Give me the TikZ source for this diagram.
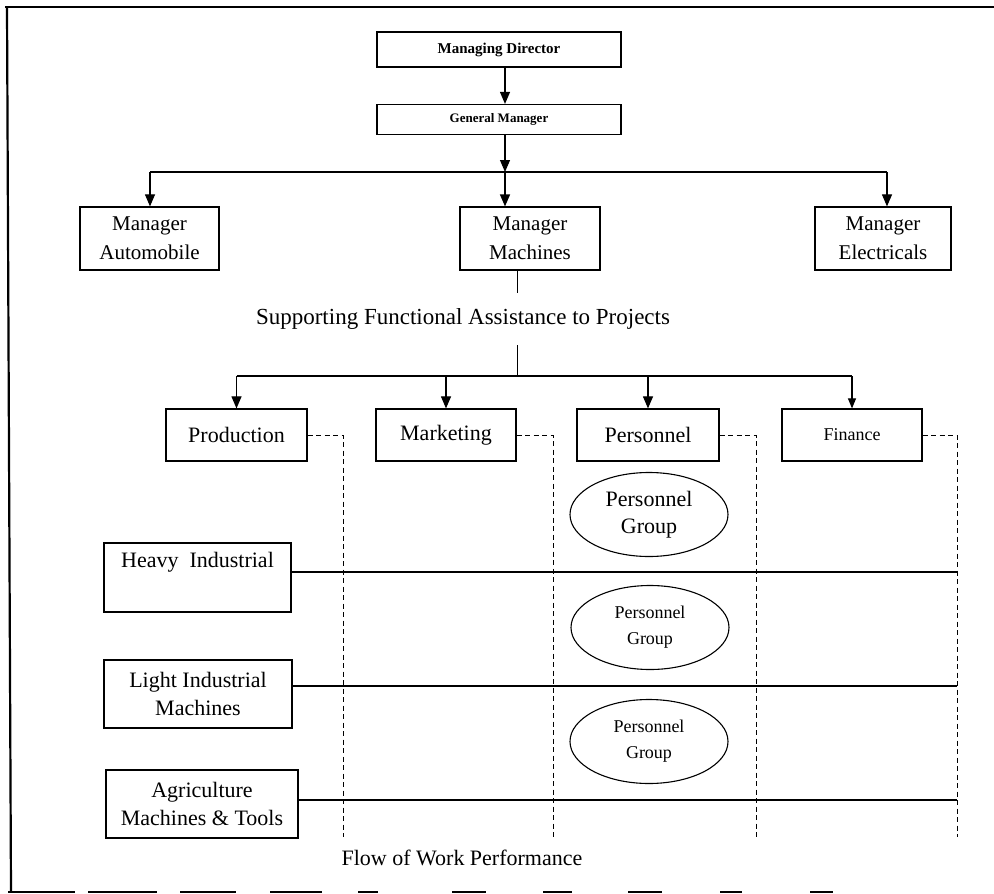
\documentclass[tikz,border=0pt]{standalone}
\usepackage{fontspec}
\setmainfont{Liberation Serif}
\usetikzlibrary{arrows.meta,shapes.geometric}
\begin{document}
\begin{tikzpicture}[x=1pt,y=-1pt,
  box/.style={draw, line width=1.2pt, inner sep=0pt, align=center},
  grp/.style={draw, ellipse, line width=1.1pt, inner sep=0pt, align=center,
              minimum width=158pt, minimum height=84pt},
  link/.style={line width=1.1pt},
  tip/.style={link, -{Triangle[length=12pt,width=10pt]}},
  flow/.style={line width=0.9pt, dash pattern=on 5pt off 3.5pt},
  row/.style={line width=1.3pt},
  frame/.style={line width=2.2pt},
  hd/.style={font=\fontsize{15}{17}\selectfont\bfseries},
  mgr/.style={font=\fontsize{21}{29}\selectfont},
  txt/.style={font=\fontsize{22}{28}\selectfont},
  small/.style={font=\fontsize{18}{26}\selectfont},
  ]
\useasboundingbox (0,0) rectangle (994,894);

% outer frame
\draw[frame] (5,7) -- (994,7);
\draw[frame] (7,7) -- (11,892);
\foreach \a/\b in {8/75, 88/157, 180/236, 270/322, 358/378, 452/486, 543/572, 628/662, 720/742, 810/833}
  \draw[frame] (\a,892) -- (\b,892);

% top management
\node[box, hd, minimum width=244pt, minimum height=35pt] (md) at (499,49.5) {Managing Director};
\node[box, hd, font=\fontsize{13}{15}\selectfont\bfseries, minimum width=244pt, minimum height=30pt] (gm) at (499,119.5) {General Manager};

% project managers
\node[box, mgr, minimum width=139pt, minimum height=63pt] (ma) at (149.5,238.5) {Manager\\Automobile};
\node[box, mgr, minimum width=140pt, minimum height=63pt] (mm) at (530,238.5) {Manager\\Machines};
\node[box, mgr, minimum width=136pt, minimum height=63pt] (me) at (883,238.5) {Manager\\Electricals};

\coordinate (j1) at (505,172);
\coordinate (j1w) at (150,172);
\coordinate (j1e) at (887,172);
\draw[tip] (j1 |- md.south) -- (j1 |- gm.north);
\draw[tip] (j1 |- gm.south) -- (j1);
\draw[link] (j1w) -- (j1e);
\draw[tip] (j1w) -- (j1w |- ma.north);
\draw[tip, line width=1.4pt] (j1) -- (j1 |- mm.north);
\draw[tip] (j1e) -- (j1e |- me.north);

% functional support
\node[font=\fontsize{23}{28}\selectfont] (sup) at (463,319) {Supporting Functional Assistance to Projects};
\coordinate (j2) at (517,376);
\draw[link, line width=0.8pt] (j2 |- mm.south) -- ++(0,22);
\draw[link, line width=0.8pt] (517,345) -- (j2);

\node[box, txt, minimum width=141pt, minimum height=52pt] (prod) at (236.5,435) {Production};
\node[box, txt, minimum width=140pt, minimum height=52pt] (mkt) at (446,435) {Marketing};
\node[box, txt, minimum width=142pt, minimum height=52pt] (pers) at (648,435) {Personnel};
\node[box, small, minimum width=140pt, minimum height=52pt] (fin) at (852,435) {Finance};

\draw[link] (prod.north |- j2) -- (fin.north |- j2);
\draw[tip] (prod.north |- j2) -- (prod.north);
\draw[tip] (mkt.north |- j2) -- (mkt.north);
\draw[tip] (pers.north |- j2) -- (pers.north);
\draw[tip, -{Triangle[length=10pt,width=8pt]}] (fin.north |- j2) -- (fin.north);

% dashed functional lines
\coordinate (c1) at (343,837);
\coordinate (c2) at (553,837);
\coordinate (c3) at (756,837);
\coordinate (c4) at (957,837);
\draw[flow] (prod.east) -| (c1);
\draw[flow] (mkt.east) -| (c2);
\draw[flow] (pers.east) -| (c3);
\draw[flow] (fin.east) -| (c4);

% product lines
\node[box, txt, minimum width=187pt, minimum height=69pt] (heavy) at (197.5,577.5) {Heavy\ \ Industrial\\[-1pt]\strut};
\node[box, txt, minimum width=188pt, minimum height=68pt] (light) at (198,694) {Light Industrial\\Machines};
\node[box, txt, minimum width=192pt, minimum height=68pt] (agri) at (202,804) {Agriculture\\Machines \& Tools};

\coordinate (r1) at (957,572);
\coordinate (r2) at (957,686);
\coordinate (r3) at (957,800);
\draw[row] (r1 -| heavy.east) -- (r1);
\draw[row] (r2 -| light.east) -- (r2);
\draw[row] (r3 -| agri.east) -- (r3);

% personnel groups
\node[grp, font=\fontsize{22}{27}\selectfont] (pg1) at (649,514.5) {Personnel\\Group};
\node[grp, font=\fontsize{18}{26}\selectfont] (pg2) at (650,627.5) {Personnel\\Group};
\node[grp, font=\fontsize{18}{26}\selectfont] (pg3) at (649,741.5) {Personnel\\Group};

\node[txt] (flowtxt) at (462,858) {Flow of Work Performance};
\end{tikzpicture}
\end{document}
